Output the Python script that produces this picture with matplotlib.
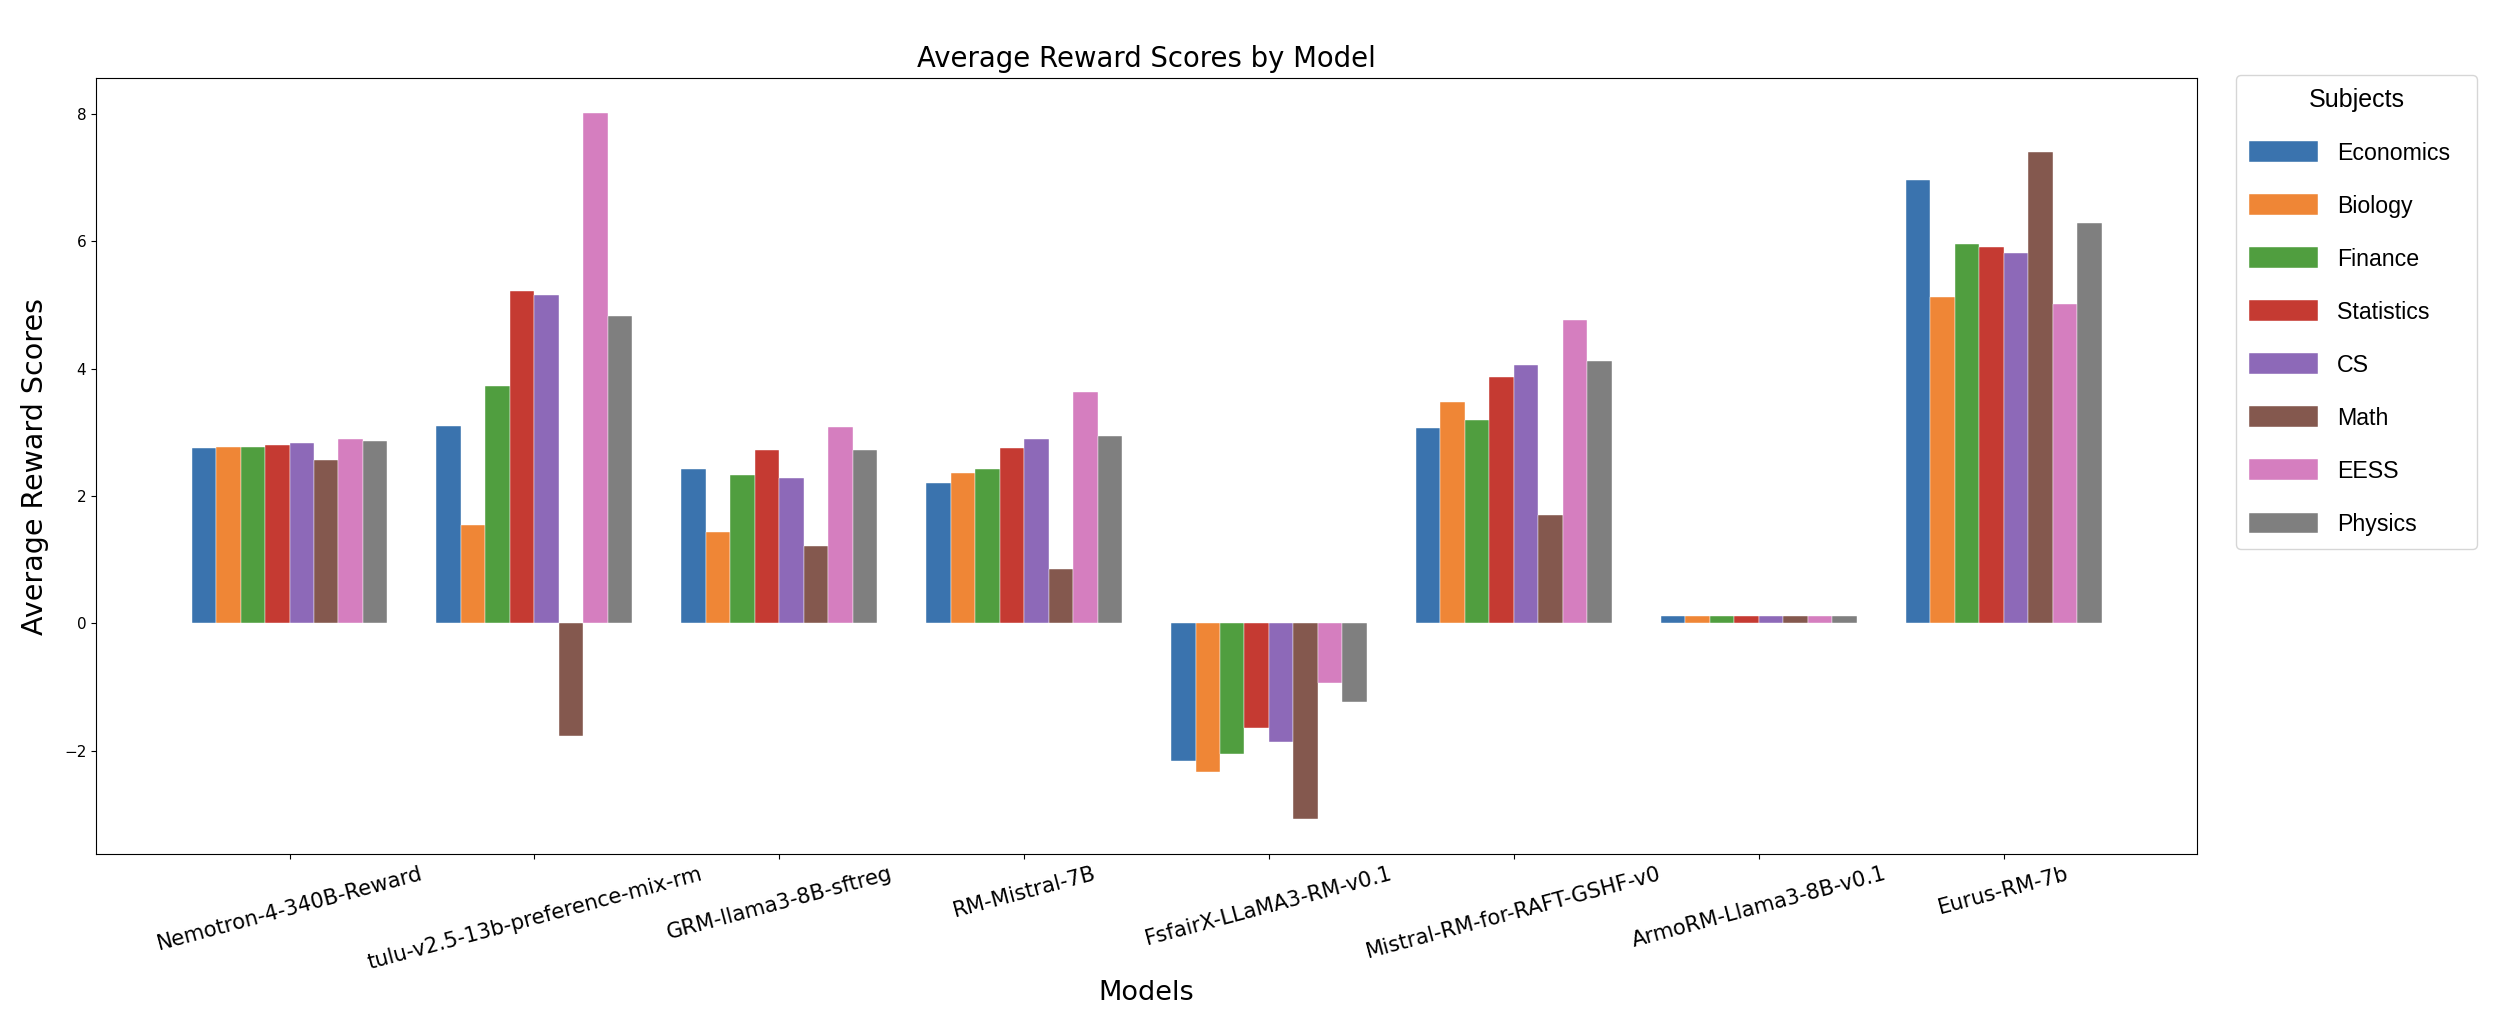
import matplotlib.pyplot as plt
import numpy as np

# Modelli e materie
models = ['Nemotron-4-340B-Reward', 'tulu-v2.5-13b-preference-mix-rm', 'GRM-llama3-8B-sftreg',
          'RM-Mistral-7B', 'FsfairX-LLaMA3-RM-v0.1', 'Mistral-RM-for-RAFT-GSHF-v0',
          'ArmoRM-Llama3-8B-v0.1', 'Eurus-RM-7b']
subjects = ['Economics', 'Biology', 'Finance', 'Statistics', 'CS', 'Math', 'EESS', 'Physics']

# Punteggi medi per materia (un valore per modello)
economics = [2.75, 3.10, 2.43, 2.20, -2.17, 3.06, 0.12, 6.96]
biology = [2.77, 1.55, 1.43, 2.36, -2.34, 3.48, 0.12, 5.13]
finance = [2.77, 3.73, 2.33, 2.43, -2.05, 3.20, 0.12, 5.96]
statistics = [2.80, 5.22, 2.72, 2.76, -1.64, 3.87, 0.12, 5.91]
cs = [2.84, 5.16, 2.28, 2.90, -1.86, 4.06, 0.12, 5.82]
math_scores = [2.57, -1.77, 1.21, 0.85, -3.07, 1.70, 0.12, 7.40]
eess = [2.90, 8.01, 3.08, 3.63, -0.93, 4.77, 0.12, 5.01]
physics = [2.86, 4.83, 2.72, 2.95, -1.23, 4.12, 0.12, 6.28]

series = [economics, biology, finance, statistics, cs, math_scores, eess, physics]
colors = ['#3A73AE', '#EF8636', '#509E3F', '#C53A32', '#8D69B8', '#84584E', '#D57EBF', '#7F7F7F']

fig = plt.figure(figsize=(25.02, 10.26), dpi=100)
ax = fig.add_axes([0.0384, 0.1676, 0.8397, 0.7563])

x = np.arange(len(models))
width = 0.1

for i, (name, vals, col) in enumerate(zip(subjects, series, colors)):
    ax.bar(x + (i - 3.5) * width, vals, width, label=name, color=col,
           edgecolor='white', linewidth=0.3)

ax.set_xticks(x)
ax.set_xticklabels(models, rotation=15, fontsize=15.2)
ax.tick_params(axis='y', labelsize=11)

ax.set_title('Average Reward Scores by Model', fontsize=19.8, pad=8)
ax.set_xlabel('Models', fontsize=19.5)
ax.set_ylabel('Average Reward Scores', fontsize=20.5)
ax.xaxis.set_label_coords(0.5, -0.162)
ax.yaxis.set_label_coords(-0.0224, 0.5)

# Legenda fuori dal grafico, a destra (larghezza fissa con mode='expand')
ax.legend(title='Subjects', loc='upper left', bbox_to_anchor=(1.0186, 1.004, 0.1147, 0.0),
          mode='expand', borderaxespad=0,
          prop={'family': 'Liberation Sans', 'size': 16.7},
          title_fontproperties={'family': 'Liberation Sans', 'size': 18},
          handlelength=3.0, handleheight=1.0, handletextpad=0.8,
          labelspacing=1.28, borderpad=0.55)

fig.savefig('out.png', dpi=100)
plt.close(fig)
